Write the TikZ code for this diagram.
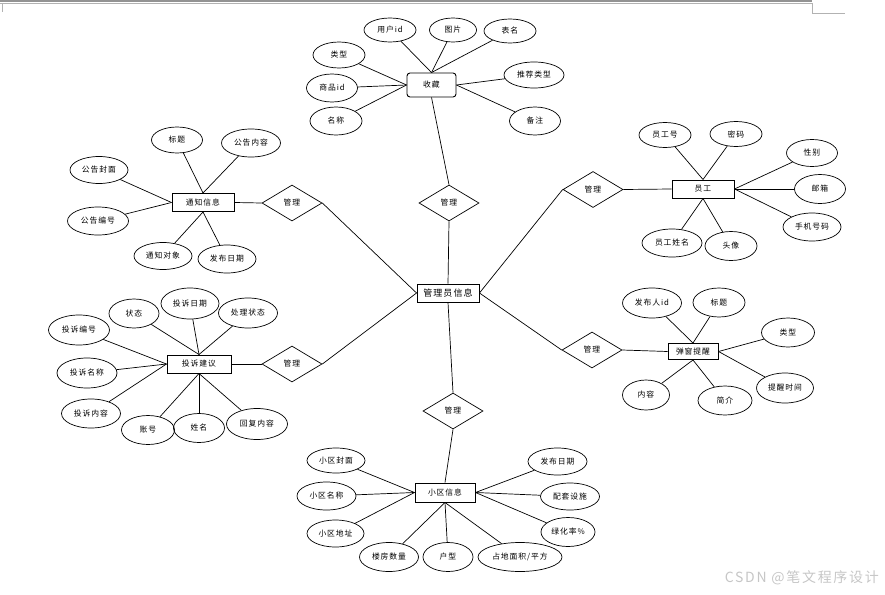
\documentclass[tikz,border=0pt]{standalone}
\usepackage{fontspec}
\newfontfamily\cjk[LetterSpace=12]{Noto Sans CJK SC}
\newfontfamily\cjkwm[LetterSpace=12]{Noto Sans CJK SC}
\usetikzlibrary{shapes.geometric}
\begin{document}
\begin{tikzpicture}[x=1pt,y=-1pt,
 every node/.style={font=\cjk\fontsize{7.8}{9}\selectfont},
 ent/.style={draw, line width=1pt, rectangle, minimum width=62pt, minimum height=18pt, inner sep=0pt},
 attr/.style 2 args={draw, line width=0.7pt, ellipse, inner sep=0pt, minimum width=#1pt, minimum height=#2pt},
 rel/.style={draw, line width=0.7pt, diamond, minimum width=60pt, minimum height=36pt, inner sep=0pt},
 link/.style={line width=0.7pt}]
\useasboundingbox (0,0) rectangle (885,594);
% top frame
\fill[gray!85] (0,0) rectangle (812,2.3);
\draw[gray!60, line width=0.5pt] (0,3.4) -- (812,3.4);
\draw[gray!60, line width=0.5pt] (2,3.4) -- (2,12);
\draw[gray!60, line width=0.5pt] (812,3.4) -- (812,13) -- (845,13);
% center
\node[draw, line width=0.9pt, minimum width=62pt, minimum height=18pt, inner sep=0pt, font=\cjk\fontsize{9}{10}\selectfont] (admin) at (448,293) {管理员信息};
% relations
\node[rel] (r1) at (449,203) {管理};
\node[rel] (r2) at (292,203) {管理};
\node[rel] (r3) at (593,189.5) {管理};
\node[rel] (r4) at (292,364) {管理};
\node[rel] (r5) at (592,350) {管理};
\node[rel] (r6) at (453,411) {管理};
% entities
\node[draw, line width=0.9pt, rounded corners=3pt, minimum width=49pt, minimum height=24pt, inner sep=0pt] (sc) at (431.5,85) {收藏};
\node[ent] (tz) at (203,202.5) {通知信息};
\node[ent] (yg) at (703,189) {员工};
\node[ent, minimum width=64pt] (ts) at (199,364) {投诉建议};
\node[ent, minimum width=50pt, minimum height=16pt] (tc) at (693,351.5) {弹窗提醒};
\node[ent, minimum width=60pt, minimum height=19pt] (xq) at (445,492.5) {小区信息};
% 收藏 attributes
\node[attr={52}{24}] (a1) at (390,30) {用户id};
\node[attr={47}{24}] (a2) at (453,30) {图片};
\node[attr={52}{24}] (a3) at (510,31) {表名};
\node[attr={52}{26}] (a4) at (339,55) {类型};
\node[attr={51}{28}] (a5) at (332,88) {商品id};
\node[attr={52}{28}] (a6) at (336,121) {名称};
\node[attr={60}{26}] (a7) at (534,75) {推荐类型};
\node[attr={51}{28}] (a8) at (535,121) {备注};
\foreach \n in {a1,a2,a3} \draw[link] (sc.north) -- (\n);
\foreach \n in {a4,a5,a6} \draw[link] (sc.west) -- (\n);
\foreach \n in {a7,a8} \draw[link] (sc.east) -- (\n);
% 通知信息 attributes
\node[attr={51}{26}] (b1) at (177,140) {标题};
\node[attr={59}{28}] (b2) at (251,143) {公告内容};
\node[attr={58}{27}] (b3) at (99,170) {公告封面};
\node[attr={61}{28}] (b4) at (98,221) {公告编号};
\node[attr={58}{27}] (b5) at (163,256) {通知对象};
\node[attr={58}{28}] (b6) at (227,259) {发布日期};
\foreach \n in {b1,b2} \draw[link] (tz.north) -- (\n);
\foreach \n in {b3,b4} \draw[link] (tz.west) -- (\n);
\foreach \n in {b5,b6} \draw[link] (tz.south) -- (\n);
% 员工 attributes
\node[attr={52}{25}] (c1) at (665,135) {员工号};
\node[attr={52}{25}] (c2) at (736,134) {密码};
\node[attr={51}{27}] (c3) at (812,153) {性别};
\node[attr={51}{29}] (c4) at (820,189) {邮箱};
\node[attr={58}{28}] (c5) at (812,227) {手机号码};
\node[attr={60}{28}] (c6) at (672,243) {员工姓名};
\node[attr={52}{29}] (c7) at (731,246) {头像};
\foreach \n in {c1,c2} \draw[link] (yg.north) -- (\n);
\foreach \n in {c3,c4,c5} \draw[link] (yg.east) -- (\n);
\foreach \n in {c6,c7} \draw[link] (yg.south) -- (\n);
% 投诉建议 attributes
\node[attr={50}{29}] (d1) at (134,313.5) {状态};
\node[attr={58}{31}] (d2) at (190,303.5) {投诉日期};
\node[attr={59}{30}] (d3) at (248,313) {处理状态};
\node[attr={61}{30}] (d4) at (79,330) {投诉编号};
\node[attr={60}{30}] (d5) at (87,373) {投诉名称};
\node[attr={59}{29}] (d6) at (91,413.5) {投诉内容};
\node[attr={53}{29}] (d7) at (148,430) {账号};
\node[attr={51}{29}] (d8) at (199,428) {姓名};
\node[attr={61}{31}] (d9) at (257,424) {回复内容};
\foreach \n in {d1,d2,d3} \draw[link] (ts.north) -- (\n);
\foreach \n in {d4,d5,d6} \draw[link] (ts.west) -- (\n);
\foreach \n in {d7,d8,d9} \draw[link] (ts.south) -- (\n);
% 弹窗提醒 attributes
\node[attr={59}{30}] (e1) at (652,303) {发布人id};
\node[attr={52}{29}] (e2) at (719,302.5) {标题};
\node[attr={53}{29}] (e3) at (788,332.5) {类型};
\node[attr={57}{30}] (e4) at (785,388) {提醒时间};
\node[attr={47}{30}] (e5) at (646,395) {内容};
\node[attr={54}{29}] (e6) at (725,400.5) {简介};
\foreach \n in {e1,e2} \draw[link] (tc.north) -- (\n);
\foreach \n in {e3,e4} \draw[link] (tc.east) -- (\n);
\foreach \n in {e5,e6} \draw[link] (tc.south) -- (\n);
% 小区信息 attributes
\node[attr={58}{25}] (f1) at (336,460.5) {小区封面};
\node[attr={59}{28}] (f2) at (326.5,496) {小区名称};
\node[attr={57}{27}] (f3) at (335.5,533.5) {小区地址};
\node[attr={59}{29}] (f4) at (389,557) {楼房数量};
\node[attr={50}{29}] (f5) at (448,557) {户型};
\node[attr={84}{29}] (f6) at (520,557) {占地面积/平方};
\node[attr={59}{27}] (f7) at (557.5,461.5) {发布日期};
\node[attr={59}{27}] (f8) at (570,496.5) {配套设施};
\node[attr={54}{29}] (f9) at (568,532) {绿化率\%};
\foreach \n in {f1,f2,f3} \draw[link] (xq.west) -- (\n);
\foreach \n in {f4,f5,f6} \draw[link] (xq.south) -- (\n);
\foreach \n in {f7,f8,f9} \draw[link] (xq.east) -- (\n);
% relation links
\draw[link] (sc.south) -- (r1.north);
\draw[link] (r1.south) -- (admin.north);
\draw[link] (tz.east) -- (r2.west);
\draw[link] (r2.east) -- (admin.west);
\draw[link] (yg.west) -- (r3.east);
\draw[link] (r3.west) -- (admin.east);
\draw[link] (ts.east) -- (r4.west);
\draw[link] (r4.east) -- (admin.west);
\draw[link] (tc.west) -- (r5.east);
\draw[link] (r5.west) -- (admin.east);
\draw[link] (admin.south) -- (r6.north);
\draw[link] (r6.south) -- (xq.north);
% watermark
\node[text=gray!45, font=\cjkwm\fontsize{14}{15}\selectfont, anchor=east, inner sep=0pt] (wm) at (879,578) {CSDN @笔文程序设计};
\end{tikzpicture}
\end{document}
